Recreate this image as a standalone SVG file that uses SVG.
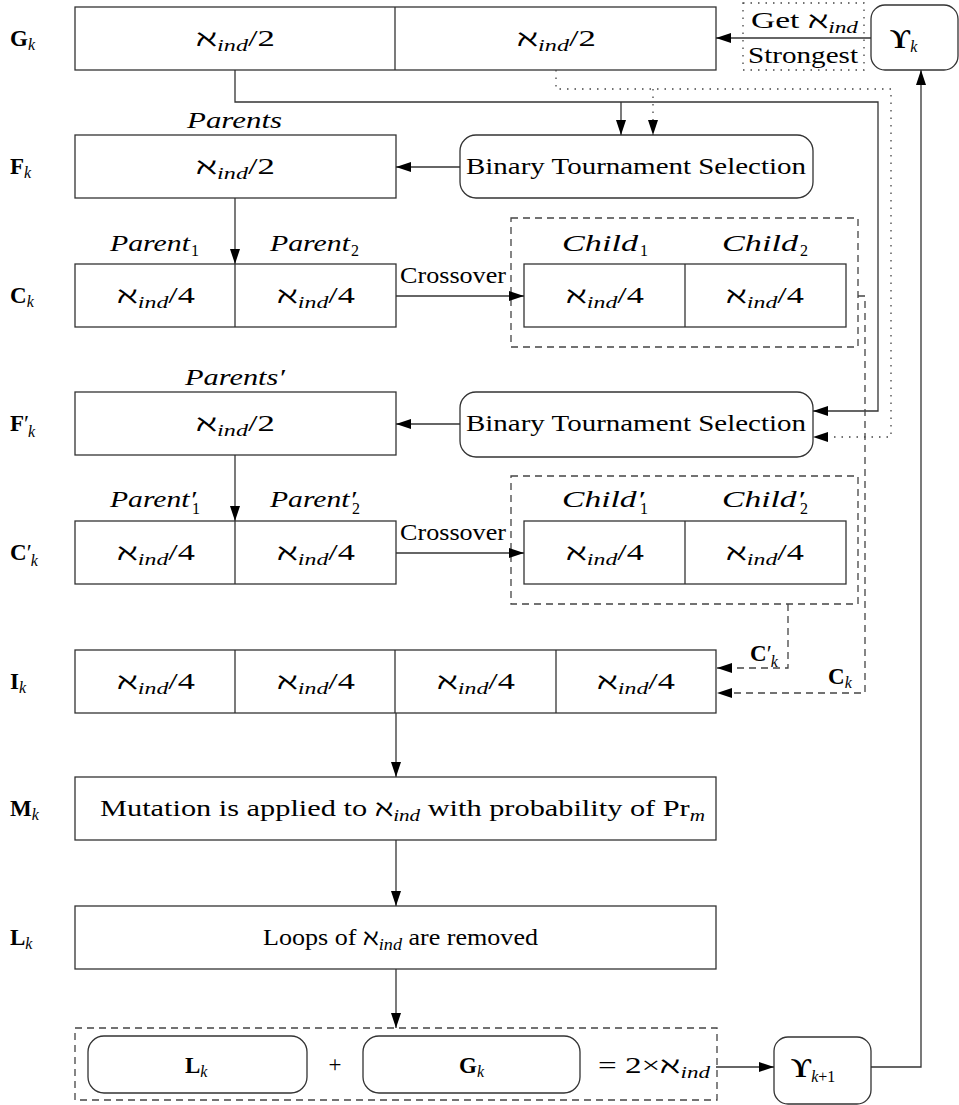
<svg xmlns="http://www.w3.org/2000/svg" width="959" height="1105" viewBox="0 0 959 1105">
<style>
text{font-family:"Liberation Serif","DejaVu Serif",serif;font-size:23px;fill:#000}
.it{font-style:italic}
.b{font-weight:bold}
.sub{font-size:16px;font-style:italic;font-weight:normal}
.subr{font-size:16px;font-style:normal;font-weight:normal}
.ups{font-size:28px;font-weight:bold}
.box{fill:#fff;stroke:#333;stroke-width:1.3}
.dash{fill:none;stroke:#444;stroke-width:1.3;stroke-dasharray:7 5}
.dot{fill:none;stroke:#444;stroke-width:1.3;stroke-dasharray:1.5 6}
.ln{fill:none;stroke:#333;stroke-width:1.3}
.mid{text-anchor:middle}
</style>
<defs>
<marker id="ah" markerWidth="15" markerHeight="10" refX="15" refY="5" orient="auto" markerUnits="userSpaceOnUse"><path d="M0,0 L15,5 L0,10 z" fill="#000"/></marker>
</defs>

<g id="row-labels">
<text x="10" y="46" class="b">G<tspan class="sub" dy="4">k</tspan></text>
<text x="10" y="174" class="b">F<tspan class="sub" dy="4">k</tspan></text>
<text x="10" y="303" class="b">C<tspan class="sub" dy="4">k</tspan></text>
<text x="10" y="431" class="b">F<tspan font-weight="normal">′</tspan><tspan class="sub" dx="-1" dy="6">k</tspan></text>
<text x="10" y="560" class="b">C<tspan font-weight="normal">′</tspan><tspan class="sub" dx="-1" dy="6">k</tspan></text>
<text x="10" y="689" class="b">I<tspan class="sub" dy="4">k</tspan></text>
<text x="10" y="816" class="b">M<tspan class="sub" dy="4">k</tspan></text>
<text x="10" y="945" class="b">L<tspan class="sub" dy="4">k</tspan></text>
</g>

<g id="G">
<rect class="box" x="75" y="7" width="641" height="63"/>
<line class="ln" x1="395" y1="7" x2="395" y2="70"/>
<text x="196" y="46" textLength="79" lengthAdjust="spacingAndGlyphs">ℵ<tspan class="sub" dy="5">ind</tspan><tspan dy="-5">/2</tspan></text>
<text x="517" y="46" textLength="79" lengthAdjust="spacingAndGlyphs">ℵ<tspan class="sub" dy="5">ind</tspan><tspan dy="-5">/2</tspan></text>
</g>

<g id="strongest">
<rect class="dot" x="743" y="3" width="121" height="67"/>
<text x="751" y="28" textLength="107" lengthAdjust="spacingAndGlyphs">Get ℵ<tspan class="sub" dy="5">ind</tspan></text>
<text x="748" y="63" textLength="110" lengthAdjust="spacingAndGlyphs">Strongest</text>
</g>

<g id="Upsilon-k">
<rect class="box" x="871" y="5" width="87" height="65" rx="14"/>
<text x="890" y="48" class="ups">ϒ<tspan class="sub" dy="4">k</tspan></text>
</g>

<g id="F">
<text x="187" y="128" class="it" textLength="95" lengthAdjust="spacingAndGlyphs">Parents</text>
<rect class="box" x="75" y="135" width="321" height="63"/>
<text x="196" y="174" textLength="79" lengthAdjust="spacingAndGlyphs">ℵ<tspan class="sub" dy="5">ind</tspan><tspan dy="-5">/2</tspan></text>
</g>

<g id="BTS1">
<rect class="box" x="460" y="135" width="353" height="63" rx="16"/>
<text x="466" y="174" textLength="340" lengthAdjust="spacingAndGlyphs">Binary Tournament Selection</text>
</g>

<g id="C">
<text x="110" y="251" class="it" textLength="80" lengthAdjust="spacingAndGlyphs">Parent</text>
<text x="191" y="256" class="subr">1</text>
<text x="270" y="251" class="it" textLength="80" lengthAdjust="spacingAndGlyphs">Parent</text>
<text x="351" y="256" class="subr">2</text>
<rect class="box" x="75" y="264" width="321" height="63"/>
<line class="ln" x1="235" y1="264" x2="235" y2="327"/>
<text x="117" y="303" textLength="78" lengthAdjust="spacingAndGlyphs">ℵ<tspan class="sub" dy="5">ind</tspan><tspan dy="-5">/4</tspan></text>
<text x="277" y="303" textLength="78" lengthAdjust="spacingAndGlyphs">ℵ<tspan class="sub" dy="5">ind</tspan><tspan dy="-5">/4</tspan></text>
</g>

<g id="Child">
<rect class="dash" x="511" y="218" width="347" height="129"/>
<text x="562" y="251" class="it" textLength="76" lengthAdjust="spacingAndGlyphs">Child</text>
<text x="640" y="256" class="subr">1</text>
<text x="722" y="251" class="it" textLength="76" lengthAdjust="spacingAndGlyphs">Child</text>
<text x="800" y="256" class="subr">2</text>
<rect class="box" x="524" y="264" width="322" height="63"/>
<line class="ln" x1="685" y1="264" x2="685" y2="327"/>
<text x="566" y="303" textLength="78" lengthAdjust="spacingAndGlyphs">ℵ<tspan class="sub" dy="5">ind</tspan><tspan dy="-5">/4</tspan></text>
<text x="726" y="303" textLength="78" lengthAdjust="spacingAndGlyphs">ℵ<tspan class="sub" dy="5">ind</tspan><tspan dy="-5">/4</tspan></text>
</g>

<g id="Fp">
<text x="185" y="385" class="it" textLength="100" lengthAdjust="spacingAndGlyphs">Parents′</text>
<rect class="box" x="75" y="392" width="321" height="63"/>
<text x="196" y="431" textLength="79" lengthAdjust="spacingAndGlyphs">ℵ<tspan class="sub" dy="5">ind</tspan><tspan dy="-5">/2</tspan></text>
</g>

<g id="BTS2">
<rect class="box" x="460" y="392" width="353" height="65" rx="16"/>
<text x="466" y="431" textLength="340" lengthAdjust="spacingAndGlyphs">Binary Tournament Selection</text>
</g>

<g id="Cp">
<text x="110" y="507" class="it" textLength="86" lengthAdjust="spacingAndGlyphs">Parent′</text>
<text x="192" y="514" class="subr">1</text>
<text x="270" y="507" class="it" textLength="86" lengthAdjust="spacingAndGlyphs">Parent′</text>
<text x="352" y="514" class="subr">2</text>
<rect class="box" x="75" y="521" width="321" height="63"/>
<line class="ln" x1="235" y1="521" x2="235" y2="584"/>
<text x="117" y="560" textLength="78" lengthAdjust="spacingAndGlyphs">ℵ<tspan class="sub" dy="5">ind</tspan><tspan dy="-5">/4</tspan></text>
<text x="277" y="560" textLength="78" lengthAdjust="spacingAndGlyphs">ℵ<tspan class="sub" dy="5">ind</tspan><tspan dy="-5">/4</tspan></text>
</g>

<g id="Childp">
<rect class="dash" x="511" y="476" width="347" height="128"/>
<text x="562" y="507" class="it" textLength="82" lengthAdjust="spacingAndGlyphs">Child′</text>
<text x="640" y="514" class="subr">1</text>
<text x="722" y="507" class="it" textLength="82" lengthAdjust="spacingAndGlyphs">Child′</text>
<text x="800" y="514" class="subr">2</text>
<rect class="box" x="524" y="521" width="322" height="63"/>
<line class="ln" x1="685" y1="521" x2="685" y2="584"/>
<text x="566" y="560" textLength="78" lengthAdjust="spacingAndGlyphs">ℵ<tspan class="sub" dy="5">ind</tspan><tspan dy="-5">/4</tspan></text>
<text x="726" y="560" textLength="78" lengthAdjust="spacingAndGlyphs">ℵ<tspan class="sub" dy="5">ind</tspan><tspan dy="-5">/4</tspan></text>
</g>

<g id="I">
<rect class="box" x="75" y="650" width="641" height="63"/>
<line class="ln" x1="235" y1="650" x2="235" y2="713"/>
<line class="ln" x1="395" y1="650" x2="395" y2="713"/>
<line class="ln" x1="556" y1="650" x2="556" y2="713"/>
<text x="117" y="689" textLength="78" lengthAdjust="spacingAndGlyphs">ℵ<tspan class="sub" dy="5">ind</tspan><tspan dy="-5">/4</tspan></text>
<text x="277" y="689" textLength="78" lengthAdjust="spacingAndGlyphs">ℵ<tspan class="sub" dy="5">ind</tspan><tspan dy="-5">/4</tspan></text>
<text x="437" y="689" textLength="78" lengthAdjust="spacingAndGlyphs">ℵ<tspan class="sub" dy="5">ind</tspan><tspan dy="-5">/4</tspan></text>
<text x="597" y="689" textLength="78" lengthAdjust="spacingAndGlyphs">ℵ<tspan class="sub" dy="5">ind</tspan><tspan dy="-5">/4</tspan></text>
</g>

<g id="M">
<rect class="box" x="75" y="777" width="641" height="63"/>
<text x="100" y="816" textLength="605" lengthAdjust="spacingAndGlyphs">Mutation is applied to ℵ<tspan class="sub" dy="5">ind</tspan><tspan dy="-5"> with probability of Pr</tspan><tspan class="sub" dy="5">m</tspan></text>
</g>

<g id="L">
<rect class="box" x="75" y="906" width="641" height="63"/>
<text x="263" y="945" textLength="275" lengthAdjust="spacingAndGlyphs">Loops of ℵ<tspan class="sub" dy="5">ind</tspan><tspan dy="-5"> are removed</tspan></text>
</g>

<g id="Sum">
<rect class="dash" x="75" y="1028" width="642" height="72"/>
<rect class="box" x="88" y="1036" width="219" height="57" rx="16"/>
<text x="185" y="1073" class="b">L<tspan class="sub" dy="4">k</tspan></text>
<text x="335" y="1072" class="mid" font-size="17">+</text>
<rect class="box" x="363" y="1036" width="217" height="57" rx="16"/>
<text x="459" y="1073" class="b">G<tspan class="sub" dy="4">k</tspan></text>
<text x="598" y="1073" textLength="112" lengthAdjust="spacingAndGlyphs">= 2×ℵ<tspan class="sub" dy="5">ind</tspan></text>
</g>

<g id="Upsilon-k1">
<rect class="box" x="774" y="1037" width="97" height="67" rx="14"/>
<text x="791" y="1077" class="ups">ϒ<tspan class="sub" dy="5">k</tspan><tspan class="subr">+1</tspan></text>
</g>

<g id="conn-labels">
<text x="400" y="283" textLength="106" lengthAdjust="spacingAndGlyphs">Crossover</text>
<text x="400" y="540" textLength="106" lengthAdjust="spacingAndGlyphs">Crossover</text>
<text x="750" y="661" class="b">C<tspan font-weight="normal">′</tspan><tspan class="sub" dx="-1" dy="6">k</tspan></text>
<text x="828" y="684" class="b">C<tspan class="sub" dy="4">k</tspan></text>
</g>

<g id="connectors">
<path class="ln" d="M871,38 H716" marker-end="url(#ah)"/>
<path class="ln" d="M235,70 V102 H878 V411 H813" marker-end="url(#ah)"/>
<path class="ln" d="M621,102 V135" marker-end="url(#ah)"/>
<path class="dot" d="M556,70 V89 H891 V437 H813" marker-end="url(#ah)"/>
<path class="dot" d="M653,89 V135" marker-end="url(#ah)"/>
<path class="ln" d="M460,167 H396" marker-end="url(#ah)"/>
<path class="ln" d="M235,198 V264" marker-end="url(#ah)"/>
<path class="ln" d="M396,296 H524" marker-end="url(#ah)"/>
<path class="ln" d="M460,424 H396" marker-end="url(#ah)"/>
<path class="ln" d="M235,455 V521" marker-end="url(#ah)"/>
<path class="ln" d="M396,553 H524" marker-end="url(#ah)"/>
<path class="dash" d="M858,296 H865 V693 H717" marker-end="url(#ah)"/>
<path class="dash" d="M788,604 V668 H717" marker-end="url(#ah)"/>
<path class="ln" d="M396,713 V777" marker-end="url(#ah)"/>
<path class="ln" d="M396,840 V906" marker-end="url(#ah)"/>
<path class="ln" d="M396,969 V1028" marker-end="url(#ah)"/>
<path class="ln" d="M716,1067 H774" marker-end="url(#ah)"/>
<path class="ln" d="M871,1067 H921 V70" marker-end="url(#ah)"/>
</g>
</svg>
